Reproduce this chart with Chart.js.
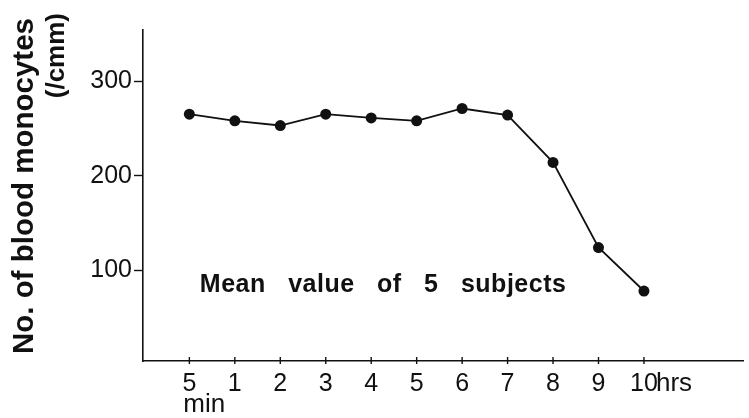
<!DOCTYPE html>
<html>
<head>
<meta charset="utf-8">
<script src="https://cdn.jsdelivr.net/npm/chart.js@4/dist/chart.umd.min.js"></script>
<style>
  body { margin: 0; background: #fff; }
  #wrap { width: 749px; height: 418px; position: relative; }
</style>
</head>
<body>
<div id="wrap"><canvas id="graphic"></canvas></div>
<script>
// time points: 5 min, then hours 1..10
const hours = [0, 1, 2, 3, 4, 5, 6, 7, 8, 9, 10];
const hourLabels = ['5', '1', '2', '3', '4', '5', '6', '7', '8', '9', '10'];
const monocytes = [265, 258, 253, 265, 261, 258, 271, 264, 214, 124, 78];
const yTicks = [100, 200, 300];

const FONT = '"Liberation Sans", Arial, Helvetica, sans-serif';

const extras = {
	id: 'extras',
	afterDraw(chart) {
		const ctx = chart.ctx;
		const x = chart.scales.x, y = chart.scales.y;
		const base = chart.chartArea.bottom;
		ctx.save();
		ctx.fillStyle = '#111';
		ctx.strokeStyle = '#111';

		// small crossing ticks on the time axis
		ctx.lineWidth = 1.4;
		hours.forEach(h => {
			const px = x.getPixelForValue(h);
			ctx.beginPath();
			ctx.moveTo(px, base - 4);
			ctx.lineTo(px, base + 3);
			ctx.stroke();
		});

		// unit words next to first and last tick labels
		ctx.font = '26px ' + FONT;
		ctx.textBaseline = 'alphabetic';
		ctx.textAlign = 'left';
		ctx.fillText('hrs', x.getPixelForValue(10) + 12, base + 30);
		ctx.fillText('min', x.getPixelForValue(0) - 6, base + 51);

		// note inside the plot
		ctx.font = 'bold 25px ' + FONT;
		ctx.letterSpacing = '0.5px';
		ctx.wordSpacing = '15px';
		ctx.fillText('Mean value of 5 subjects', x.getPixelForValue(0.23), y.getPixelForValue(77));
		ctx.letterSpacing = '0px';
		ctx.wordSpacing = '0px';

		// vertical axis title, two lines
		ctx.rotate(-Math.PI / 2);
		ctx.textAlign = 'right';
		ctx.textBaseline = 'alphabetic';
		ctx.font = 'bold 29.5px ' + FONT;
		ctx.fillText('No. of blood monocytes', -18, 33);
		ctx.font = 'bold 26px ' + FONT;
		ctx.fillText('(/cmm)', -13, 64);
		ctx.restore();
	}
};

new Chart(graphic, {
	type: 'line',
	data: {
		datasets: [{
			data: hours.map((h, i) => ({ x: h, y: monocytes[i] })),
			borderColor: '#111',
			backgroundColor: '#111',
			borderWidth: 1.8,
			pointRadius: 5.5,
			pointBorderWidth: 0,
			tension: 0,
		}]
	},
	options: {
		responsive: true,
		maintainAspectRatio: false,
		animation: false,
		layout: { padding: { top: 30, right: 0, left: 0, bottom: 0 } },
		plugins: { legend: { display: false }, tooltip: { enabled: false } },
		scales: {
			x: {
				type: 'linear',
				min: -1.02,
				max: 12.19,
				afterBuildTicks: s => { s.ticks = hours.map(v => ({ value: v })); },
				afterFit: s => { s.height = 57; },
				grid: { display: false },
				border: { color: '#111', width: 1.6 },
				ticks: {
					color: '#111',
					padding: 0,
					font: { family: FONT, size: 25 },
					callback: (v) => hourLabels[hours.indexOf(v)]
				}
			},
			y: {
				min: 4,
				max: 354,
				afterBuildTicks: s => { s.ticks = yTicks.map(v => ({ value: v })); },
				afterFit: s => { s.width = 143; },
				grid: { drawOnChartArea: false, color: '#111', tickLength: 9, tickWidth: 1.4 },
				border: { color: '#111', width: 1.6 },
				ticks: {
					color: '#111',
					padding: 2,
					font: { family: FONT, size: 25 }
				}
			}
		}
	},
	plugins: [extras]
});
</script>
</body>
</html>
